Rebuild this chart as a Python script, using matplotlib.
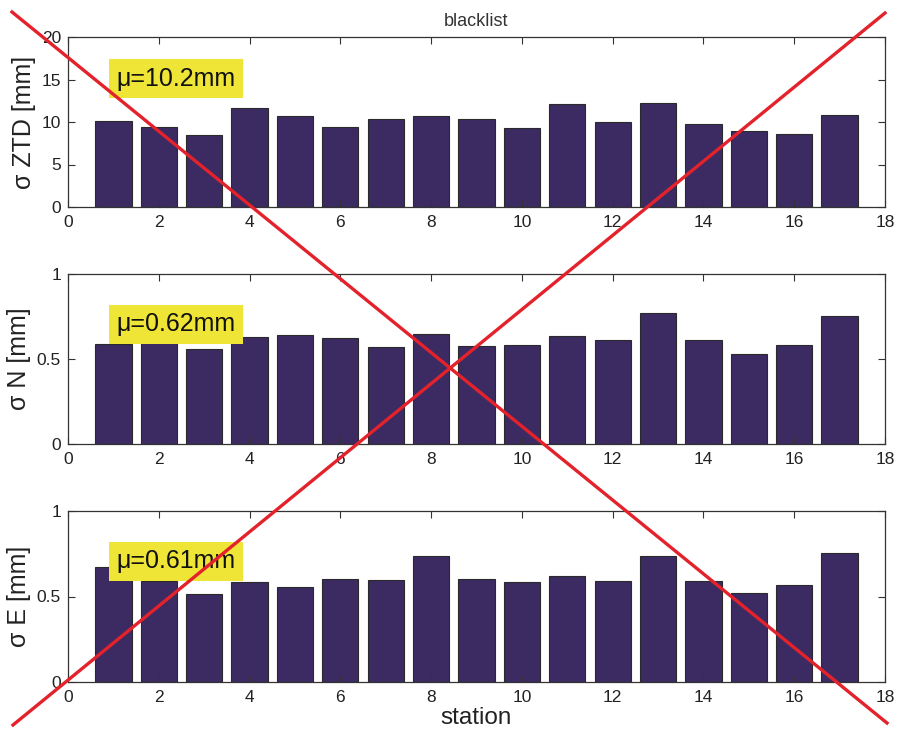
import matplotlib
matplotlib.use("Agg")
import matplotlib.pyplot as plt
from matplotlib.lines import Line2D
import numpy as np

plt.rcParams['font.family'] = ['Liberation Sans', 'DejaVu Sans']

stations = list(range(1, 18))
sigma_ztd = [10.1, 9.4, 8.5, 11.6, 10.7, 9.45, 10.4, 10.7, 10.4, 9.3, 12.1, 9.96, 12.2, 9.8, 8.9, 8.6, 10.8]
sigma_n = [0.589, 0.62, 0.558, 0.632, 0.640, 0.622, 0.573, 0.646, 0.577, 0.581, 0.638, 0.613, 0.773, 0.609, 0.530, 0.581, 0.751]
sigma_e = [0.670, 0.59, 0.516, 0.582, 0.555, 0.604, 0.594, 0.736, 0.604, 0.586, 0.619, 0.588, 0.738, 0.588, 0.521, 0.570, 0.752]
ylabels = ['σ ZTD [mm]', 'σ N [mm]', 'σ E [mm]']
mean_labels = ['μ=10.2mm', 'μ=0.62mm', 'μ=0.61mm']
ylims = [20, 1, 1]
yticks = [[0, 5, 10, 15, 20], [0, 0.5, 1], [0, 0.5, 1]]
ytick_labels = [['0', '5', '10', '15', '20'], ['0', '0.5', '1'], ['0', '0.5', '1']]
xticks = list(range(0, 19, 2))

fig = plt.figure(figsize=(9.01, 7.36), dpi=100)
left, width = 68 / 901, 817 / 901
tops = [37, 274, 511]
bottoms = [207, 444, 682]
bar_color = '#3c2a63'
series = [sigma_ztd, sigma_n, sigma_e]
box_y = [0.755, 0.703, 0.706]

for i in range(3):
    b = 1 - bottoms[i] / 736
    h = (bottoms[i] - tops[i]) / 736
    ax = fig.add_axes([left, b, width, h])
    ax.bar(stations, series[i], width=0.8, color=bar_color, edgecolor='#2a2a2a', linewidth=0.8)
    ax.set_xlim(0, 18)
    ax.set_ylim(0, ylims[i])
    ax.set_xticks(xticks)
    ax.set_xticklabels([str(t) for t in xticks])
    ax.set_yticks(yticks[i])
    ax.set_yticklabels(ytick_labels[i])
    ax.tick_params(direction='in', top=True, right=True, length=5, width=0.8,
                   colors='#333333', labelcolor='#222222', labelsize=12.5)
    ax.tick_params(axis='x', pad=6)
    ax.tick_params(axis='y', pad=5)
    for s in ax.spines.values():
        s.set_color('#333333')
        s.set_linewidth(0.9)
    ax.set_ylabel(ylabels[i], fontsize=18, color='#222222', labelpad=4)
    ax.text(1.06, box_y[i] * ylims[i], mean_labels[i], fontsize=18, color='#111111',
            ha='left', va='center',
            bbox=dict(boxstyle='square,pad=0.3', facecolor='#efe536', edgecolor='none'))
    if i == 0:
        ax.set_title('blacklist', fontsize=13, color='#333333', pad=8)
    if i == 2:
        ax.set_xlabel('station', fontsize=17.5, color='#222222', labelpad=1)

# red cross over the whole figure
fig.add_artist(Line2D([12 / 901, 887 / 901], [1 - 12 / 736, 1 - 723 / 736],
                      transform=fig.transFigure, color='#e3222b', linewidth=2.4))
fig.add_artist(Line2D([13 / 901, 885 / 901], [1 - 725 / 736, 1 - 13 / 736],
                      transform=fig.transFigure, color='#e3222b', linewidth=2.4))

fig.savefig('out.png', dpi=100)
